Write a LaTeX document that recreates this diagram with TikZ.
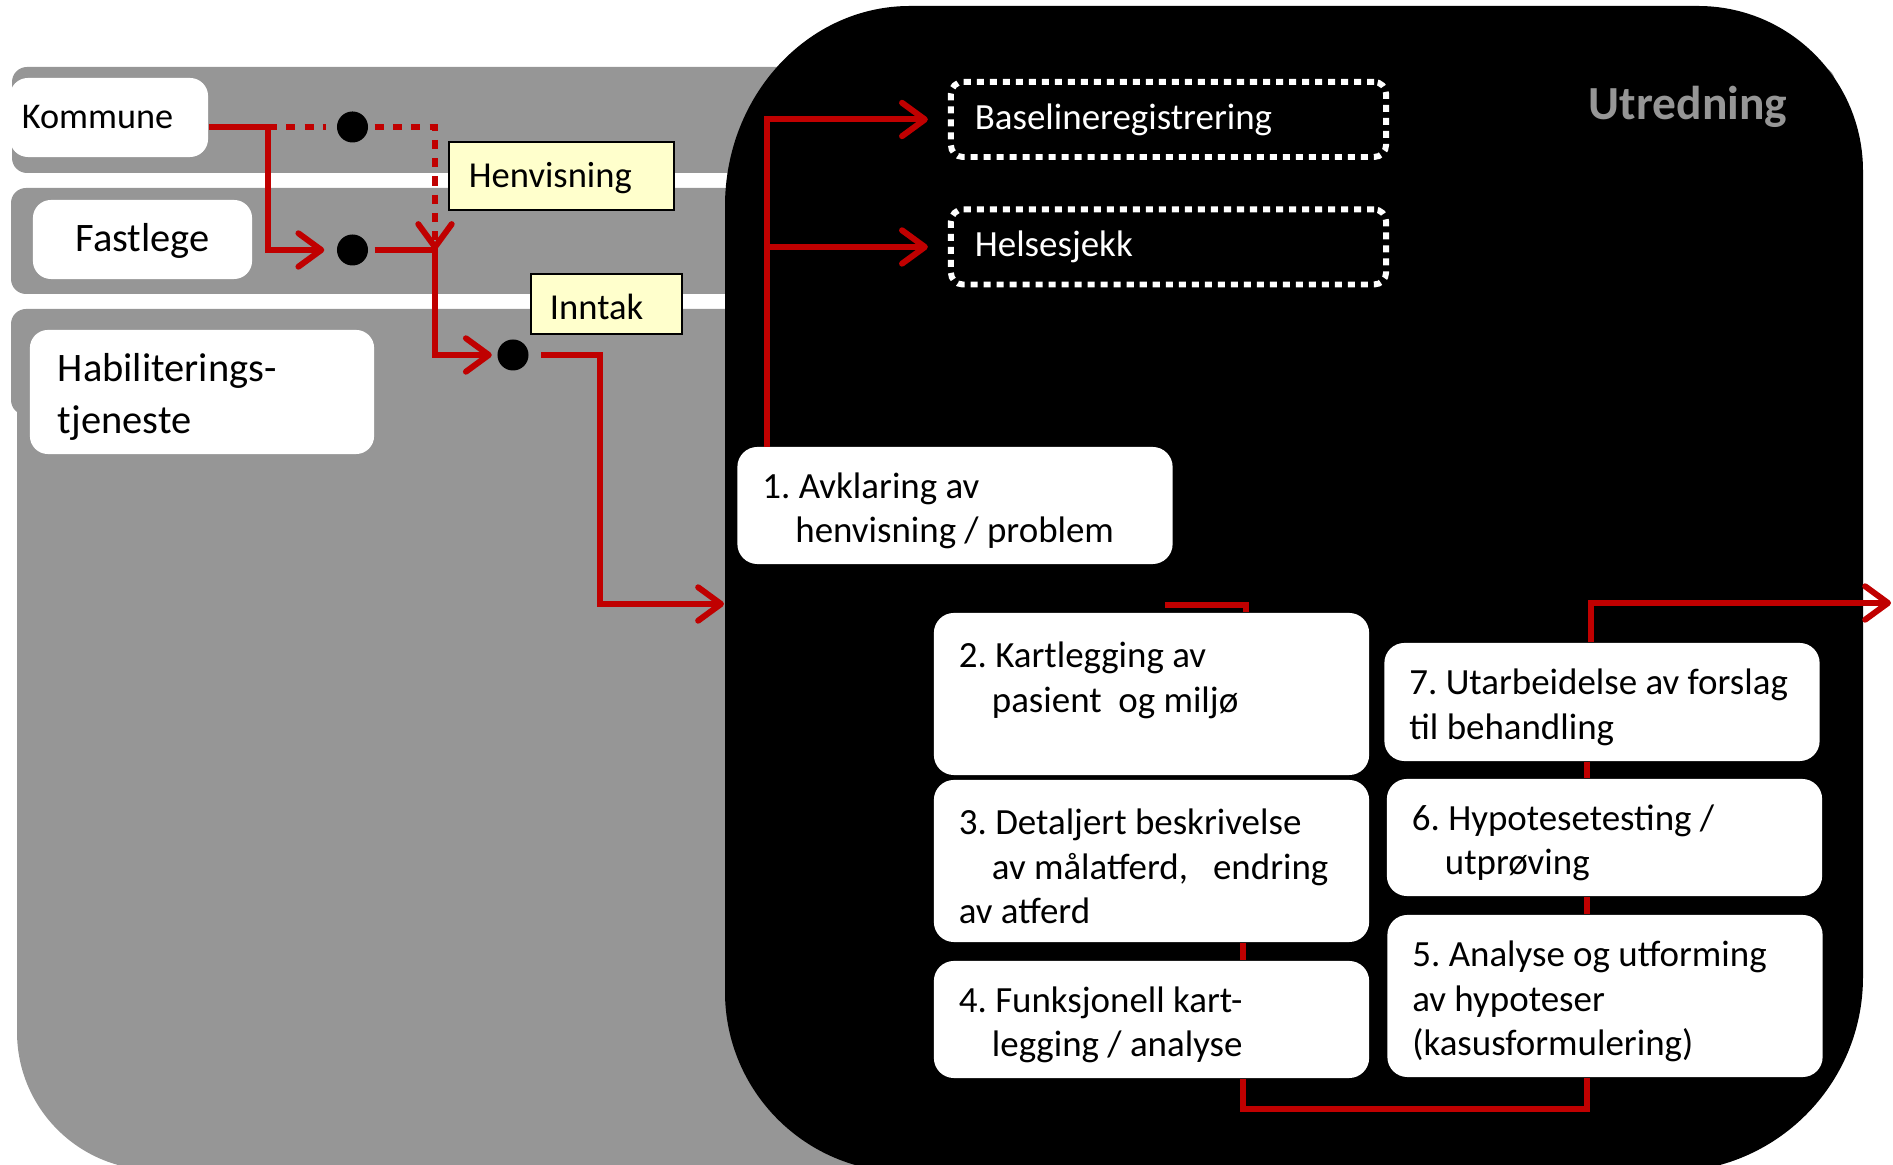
\documentclass[tikz,border=0pt]{standalone}
\usepackage{fontspec}
\setmainfont{Carlito}
\usepackage{tikz}
\usetikzlibrary{arrows.meta,positioning}
\definecolor{flowred}{RGB}{192,0,0}
\definecolor{bandgray}{RGB}{150,150,150}
\definecolor{tagyellow}{RGB}{255,255,204}
\newcommand{\indt}{\hspace*{0.33cm}}
\frenchspacing
\tikzset{
        band/.style = {fill=bandgray, rounded corners=0.15cm},
        srcbox/.style = {fill=white, rounded corners=0.18cm,
            inner sep=0pt, minimum height=0.79cm},
        stepbox/.style = {fill=white, rounded corners=0.2cm,
            minimum width=4.35cm},
        steptext/.style = {anchor=west, align=left, inner xsep=0.25cm,
            yshift=-0.055cm, font=\fontsize{10.5}{12.7}\selectfont},
        tag/.style = {draw, line width=0.6pt, fill=tagyellow, align=left,
            inner ysep=0pt, font=\fontsize{10.4}{12}\selectfont},
        dashbox/.style = {draw=white, line width=1.7pt,
            dash pattern=on 2pt off 1.7pt, rounded corners=0.12cm,
            minimum width=4.35cm, minimum height=0.75cm, text=white,
            align=left, text width=3.87cm, inner xsep=0.24cm,
            font=\fontsize{10.5}{12.7}\selectfont},
        dot/.style = {circle, fill=black, minimum size=0.31cm, inner sep=0pt},
        flow/.style = {draw=flowred, line width=1.7pt},
        dotline/.style = {dash pattern=on 2.6pt off 2.6pt},
        arrow/.style = {flow, -{Straight Barb[length=6.5pt,width=9.5pt,round]}},
    }

\begin{document}
\begin{tikzpicture}[x=0.01cm, y=-0.01cm]
    \useasboundingbox (0,0) rectangle (1893,1165);
    \clip (0,0) rectangle (1893,1165);

    \fill[band] (12,67) rectangle (1835,173);
    \fill[band] (11,188) rectangle (760,294);
    \fill[band] (11,309) rectangle (760,415);
    \fill[bandgray] (17,400) -- (17,1032) arc[start angle=180, end angle=90, radius=138]
        -- (900,1170) -- (900,400) -- cycle;

    \fill[black] (725,206) arc[start angle=180, end angle=270, x radius=185, y radius=200]
        -- (1698,6) arc[start angle=270, end angle=360, radius=165]
        -- (1863,977) arc[start angle=0, end angle=90, radius=195]
        -- (905,1172) arc[start angle=90, end angle=180, radius=180] -- cycle;

    \node[srcbox, minimum width=1.98cm, text width=1.74cm, inner xsep=0.12cm, align=left,
        font=\fontsize{10.3}{12}\selectfont] (kom) at (109,117.5) {Kommune};
    \node[srcbox, minimum width=2.19cm, text width=2.19cm, align=center,
        text height=9.5pt, text depth=2.4pt,
        font=\fontsize{11.5}{14}\selectfont] (fast) at (142.5,239.5) {Fastlege};
    \node[srcbox, minimum height=1.24cm, text width=2.88cm, inner xsep=0.28cm, align=left,
        font=\fontsize{11.5}{14.7}\selectfont] (hab) at (202,392) {\\[-0.14cm]Habiliterings-\\tjeneste};

    \node[tag, minimum height=0.68cm, text width=1.85cm, inner xsep=0.2cm,
        text height=9pt, text depth=2.3pt] (henv) at (561.5,176) {Henvisning};
    \node[tag, minimum height=0.6cm, text width=1.13cm, inner xsep=0.19cm,
        text height=8.7pt, text depth=0pt] (inntak) at (606.5,304) {Inntak};

    \node[dot] (d1) at (352.5,127) {};
    \node[dot] (d2) at (352.5,250) {};
    \node[dot] (d3) at (513,355) {};

    \node[dashbox] (base) at (1168.5,119.5) {Baselineregistrering};
    \node[dashbox] (helse) at (1168.5,247) {Helsesjekk};
    \node[font=\fontsize{13.5}{16}\selectfont\bfseries, text=bandgray] (utr) at (1688,107) {Utredning};

    \node[stepbox, minimum height=1.17cm] (s1) at (955,505.5) {};
    \node[steptext] (t1) at (s1.west) {1. Avklaring av\\\indt henvisning / problem};
    \node[stepbox, minimum height=1.62cm] (s2) at (1151.5,694) {};
    \node[steptext] (t2) at (s2.west) {2. Kartlegging av\\\indt pasient\ \ og miljø\\\mbox{}};
    \node[stepbox, minimum height=1.62cm] (s3) at (1151.5,861) {};
    \node[steptext] (t3) at (s3.west) {3. Detaljert beskrivelse\\\indt av målatferd,\ \ \ endring\\av atferd};
    \node[stepbox, minimum height=1.17cm] (s4) at (1151.5,1019.5) {};
    \node[steptext] (t4) at (s4.west) {4. Funksjonell kart-\\\indt legging / analyse};
    \node[stepbox, minimum height=1.62cm] (s5) at (1605,996) {};
    \node[steptext] (t5) at (s5.west) {5. Analyse og utforming\\av hypoteser\\(kasusformulering)};
    \node[stepbox, minimum height=1.17cm] (s6) at (1604.5,837.5) {};
    \node[steptext] (t6) at (s6.west) {6. Hypotesetesting /\\\indt utprøving};
    \node[stepbox, minimum height=1.18cm] (s7) at (1602,702) {};
    \node[steptext] (t7) at (s7.west) {7. Utarbeidelse av forslag\\til behandling};

    \coordinate (j1) at (268,127);
    \coordinate (j2) at (435,250);
    \coordinate (k3) at (600,355);
    \coordinate (entry) at (724,604);
    \coordinate (s1top) at (767,447);
    \coordinate (c34) at (1243,0);
    \coordinate (c65) at (1587,0);
    \coordinate (k7) at (1591,603);
    \coordinate (exit) at (1891,603);
    \coordinate (st1) at (1165,605);
    \coordinate (st2) at (1246,605);

    \draw[flow] (kom.east |- d1) -- (j1);
    \draw[flow, dotline, shorten >=0.1cm] (j1) -- (d1);
    \draw[arrow, dotline, shorten <=0.06cm] (d1) -| (j2);
    \draw[arrow, shorten >=0.12cm] (j1) |- (d2);
    \draw[arrow, shorten <=0.06cm, shorten >=0.05cm] (d2) -- (j2) |- (d3);
    \draw[arrow, shorten <=0.12cm] (d3) -- (k3) |- (entry);

    \draw[arrow, shorten >=0.2cm] (s1top) |- (base);
    \draw[arrow, shorten >=0.2cm] (s1top) |- (helse);
    \draw[flow] (st1) -- (st2) -- ++(0,7);

    \draw[flow] (s3.south -| c34) -- (s4.north -| c34);
    \draw[flow] (s4.south -| c34) -- ++(0,30) -| (s5.south -| c65);
    \draw[flow] (s6.south -| c65) -- (s5.north -| c65);
    \draw[flow] (s7.south -| c65) -- (s6.north -| c65);
    \draw[arrow] (s7.north -| k7) -- (k7) -- (exit);
\end{tikzpicture}
\end{document}
